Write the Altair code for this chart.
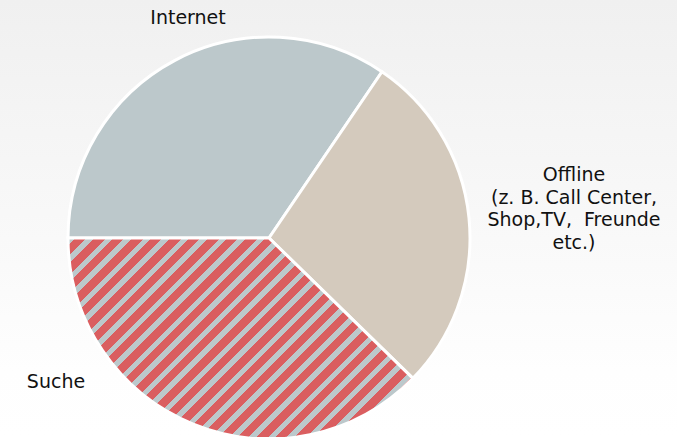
import math
import altair as alt
import pandas as pd

# ---- data ----
categories = ["Internet", "Offline", "Suche"]
shares = [34.5, 27.8, 37.7]
slice_colors = ["#bcc8cb", "#d4cabd", "#bcc8cb"]
label_texts = ["Internet", "Offline\n(z. B. Call Center,\nShop,TV,\u00a0 Freunde\netc.)", "Suche"]

# ---- layout / style constants ----
W_TOTAL, H_TOTAL = 677, 437
CX, CY, R = 269, 238, 201
START = 1.5 * math.pi  # pie starts at 9 o'clock
RED = "#da5e60"
GREY = "#bcc8cb"

df = pd.DataFrame({"cat": categories, "share": shares, "idx": list(range(len(categories)))})

# --- compute bbox of the "Suche" slice to build a striped (hatched) gradient ---
total = sum(shares)
i_s = categories.index("Suche")
a0 = START + sum(shares[:i_s]) / total * 2 * math.pi
a1 = a0 + shares[i_s] / total * 2 * math.pi
pts = [(CX, CY)]
n = 400
for k in range(n + 1):
    a = a0 + (a1 - a0) * k / n
    pts.append((CX + R * math.sin(a), CY - R * math.cos(a)))
xs = [p[0] for p in pts]
ys = [p[1] for p in pts]
BW = max(xs) - min(xs)
BH = max(ys) - min(ys)
r = BH / BW
kk = (1 + r) / (1 + r * r)
period = 19.0  # px along x (stripes at 45 degrees)
nper = (BW + BH) / period
grey_frac = 0.38
stops = []
j = 0
while True:
    s = j / nper
    if s >= 1:
        break
    m = min(1.0, (j + grey_frac) / nper)
    e = min(1.0, (j + 1) / nper)
    stops.append({"offset": round(s, 5), "color": GREY})
    stops.append({"offset": round(m, 5), "color": GREY})
    stops.append({"offset": round(m, 5), "color": RED})
    stops.append({"offset": round(e, 5), "color": RED})
    j += 1
stripe_grad = {"gradient": "linear", "x1": 0, "y1": 0, "x2": kk, "y2": kk * r, "stops": stops}

bg_grad = {
    "gradient": "linear", "x1": 0, "y1": 0, "x2": 0, "y2": 1,
    "stops": [{"offset": 0, "color": "#f0f0f0"}, {"offset": 0.85, "color": "#fefefe"},
              {"offset": 1, "color": "#ffffff"}],
}

bg = alt.Chart(alt.InlineData(values=[{"a": 1}])).mark_rect(fill=bg_grad).encode(
    x=alt.value(0), x2=alt.value(W_TOTAL), y=alt.value(0), y2=alt.value(H_TOTAL)
)

pie = alt.Chart(df).mark_arc(outerRadius=R, stroke="white", strokeWidth=3).encode(
    theta=alt.Theta("share:Q", stack=True,
                    scale=alt.Scale(range=[START, START + 2 * math.pi])),
    order=alt.Order("idx:Q"),
    color=alt.condition(
        alt.datum.cat == "Suche",
        alt.value(stripe_grad),
        alt.Color("cat:N", scale=alt.Scale(domain=categories, range=slice_colors), legend=None),
    ),
    x=alt.value(CX),
    y=alt.value(CY),
)

font = dict(font="DejaVu Sans", fontSize=19, color="#111111", align="center")
t_internet = alt.Chart(alt.InlineData(values=[{"a": 1}])).mark_text(baseline="middle", **font).encode(
    x=alt.value(188), y=alt.value(18), text=alt.value(label_texts[0]))
t_offline = alt.Chart(alt.InlineData(values=[{"a": 1}])).mark_text(
    baseline="middle", lineBreak="\n", lineHeight=22.7, **font).encode(
    x=alt.value(574), y=alt.value(175), text=alt.value(label_texts[1]))
t_suche = alt.Chart(alt.InlineData(values=[{"a": 1}])).mark_text(baseline="middle", **font).encode(
    x=alt.value(56), y=alt.value(382), text=alt.value(label_texts[2]))

chart = alt.layer(bg, pie, t_internet, t_offline, t_suche).properties(
    width=W_TOTAL, height=H_TOTAL, padding=0,
    autosize=alt.AutoSizeParams(type="none"),
).configure_view(strokeWidth=0)

chart.save("out.html", embed_options={"renderer": "svg", "actions": False})
